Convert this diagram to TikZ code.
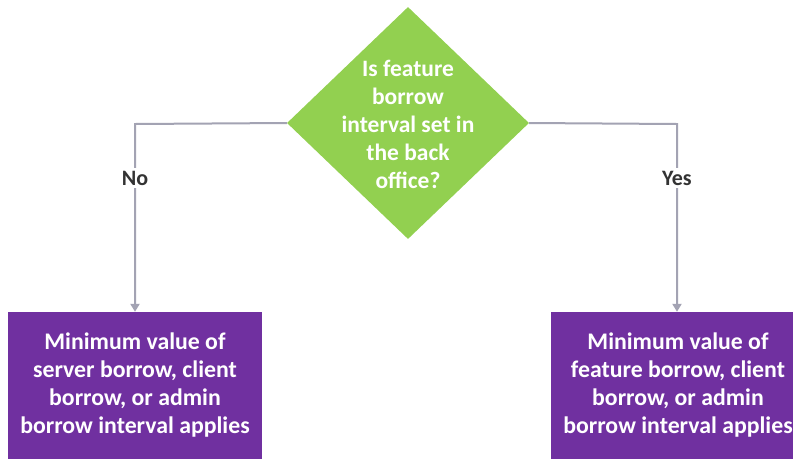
\documentclass[tikz,border=0pt]{standalone}
\usepackage{fontspec}
\setmainfont{Carlito}
\usetikzlibrary{shapes.geometric,arrows.meta}
\definecolor{dgreen}{HTML}{92D050}
\definecolor{dpurple}{HTML}{7030A0}
\definecolor{lgray}{HTML}{A3A3B3}
\definecolor{lbl}{HTML}{333333}
\tikzset{
  decision/.style={diamond, fill=dgreen, draw=none, inner sep=0pt, minimum width=242pt, minimum height=232pt},
  dtext/.style={text=white, font=\fontsize{23.5}{28}\selectfont\bfseries, align=center, inner sep=0pt},
  outbox/.style={rectangle, fill=dpurple, draw=none, minimum width=254pt, minimum height=147pt, text=white, font=\fontsize{23.8}{28}\selectfont\bfseries, align=center, inner sep=0pt},
  conn/.style={draw=lgray, line width=2pt},
  arr/.style={conn, -{Triangle[length=8pt,width=9pt]}},
  lab/.style={fill=white, text=lbl, font=\fontsize{22}{26}\selectfont\bfseries, inner sep=3pt}
}
\begin{document}
\begin{tikzpicture}[x=1pt,y=-1pt]
\useasboundingbox[fill=white] (0,0) rectangle (793,459);
\node[decision] (d) at (408,123) {};
\node[dtext] (dt) at (408,124) {Is feature\\borrow\\interval set in\\the back\\office?};
\node[outbox] (l) at (135,385.5) {Minimum value of\\server borrow, client\\borrow, or admin\\borrow interval applies};
\node[outbox] (r) at (678,385.5) {Minimum value of\\feature borrow, client\\borrow, or admin\\borrow interval applies};
\coordinate (lc) at (135,124);
\coordinate (rc) at (677,124);
\draw[arr] (d.west) -- (lc) -- (lc |- l.north);
\draw[arr] (d.east) -- (rc) -- (rc |- r.north);
\node[lab] (no) at (135,178) {No};
\node[lab] (yes) at (677,178) {Yes};
\end{tikzpicture}
\end{document}
